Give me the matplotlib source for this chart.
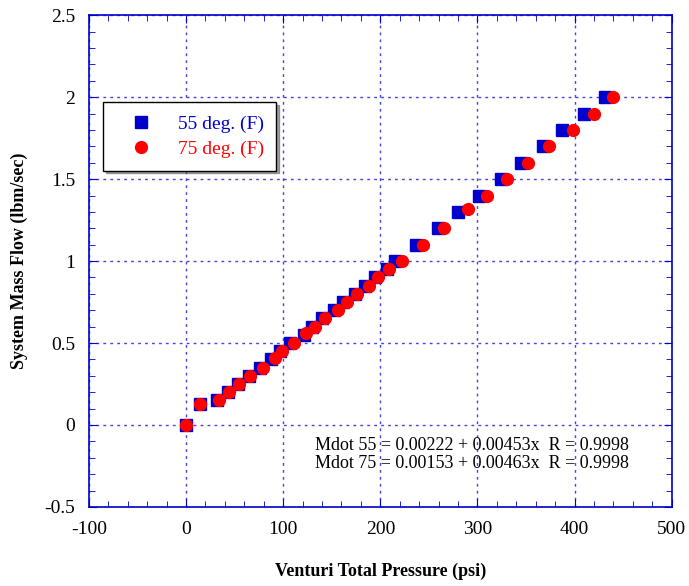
import matplotlib.pyplot as plt
from matplotlib.ticker import MultipleLocator

# mass flow levels (lbm/sec)
flow_55 = [0, 0.125, 0.15, 0.2, 0.25, 0.3, 0.35, 0.4, 0.45, 0.5, 0.55, 0.6, 0.65, 0.7,
           0.75, 0.8, 0.85, 0.9, 0.95, 1.0, 1.1, 1.2, 1.3, 1.4, 1.5, 1.6, 1.7, 1.8, 1.9, 2.0]
press_55 = [0, 14, 32, 43.5, 53.5, 65, 76.5, 87.5, 97, 107.5, 121, 130, 140, 152.5,
            162, 174, 184, 195, 207, 215, 237, 259.5, 280, 302, 324, 345, 367, 387.5, 410, 431]

flow_75 = [0, 0.125, 0.15, 0.2, 0.25, 0.3, 0.35, 0.41, 0.45, 0.5, 0.56, 0.6, 0.65, 0.7,
           0.75, 0.8, 0.85, 0.9, 0.95, 1.0, 1.1, 1.2, 1.315, 1.4, 1.5, 1.6, 1.7, 1.8, 1.9, 2.0]
press_75 = [0, 14.5, 34, 44.5, 54.5, 66, 79, 92, 99, 111.5, 124, 133, 143.5, 156,
            166, 176, 188, 198, 209, 222, 244, 266, 290.5, 310, 330.5, 352.5, 374, 398, 419.5, 440]

fit_text = "Mdot 55 = 0.00222 + 0.00453x  R = 0.9998\nMdot 75 = 0.00153 + 0.00463x  R = 0.9998"

blue = '#0000cc'
grid_blue = '#4444dd'

plt.rcParams['font.family'] = ['Liberation Serif', 'DejaVu Serif']
plt.rcParams['axes.unicode_minus'] = False

fig = plt.figure(figsize=(6.89, 5.86), dpi=100)
ax = fig.add_axes([0.129, 0.135, 0.846, 0.839])

ax.plot(press_55, flow_55, linestyle='none', marker='s', markersize=8.5,
        color=blue, markeredgecolor=blue, label='55 deg. (F)', zorder=3)
ax.plot(press_75, flow_75, linestyle='none', marker='o', markersize=8.5,
        color='#ff0000', markeredgecolor='#ff0000', label='75 deg. (F)', zorder=4)

ax.set_xlim(-100, 500)
ax.set_ylim(-0.5, 2.5)
ax.xaxis.set_major_locator(MultipleLocator(100))
ax.xaxis.set_minor_locator(MultipleLocator(20))
ax.yaxis.set_major_locator(MultipleLocator(0.5))
ax.yaxis.set_minor_locator(MultipleLocator(0.1))
ax.yaxis.set_major_formatter(plt.FuncFormatter(lambda v, p: f'{v:g}'))

ax.grid(True, which='major', color=grid_blue, linestyle=(0, (2, 3)), linewidth=1)
ax.set_axisbelow(True)

for s in ax.spines.values():
    s.set_color(blue)
    s.set_linewidth(1.2)

ax.tick_params(which='both', direction='in', top=True, right=True, color=blue, labelsize=14)
ax.tick_params(which='major', length=6, pad=10)
ax.tick_params(which='minor', length=4)

ax.set_xlabel('Venturi Total Pressure (psi)', fontsize=13, fontweight='bold', labelpad=18)
ax.set_ylabel('System Mass Flow (lbm/sec)', fontsize=13, fontweight='bold', labelpad=12)

leg = ax.legend(loc='upper left', bbox_to_anchor=(0.024, 0.823), fontsize=14,
                frameon=True, fancybox=False, shadow=True, edgecolor='black',
                borderpad=0.65, handletextpad=0.6, labelspacing=0.4,
                borderaxespad=0, handlelength=2.6)
leg.get_frame().set_linewidth(1)
for txt, c in zip(leg.get_texts(), [blue, '#ff0000']):
    txt.set_color(c)

ax.text(0.388, 0.142, fit_text, transform=ax.transAxes, fontsize=13,
        va='top', ha='left', linespacing=1.05)

fig.savefig('out.png', dpi=100)
